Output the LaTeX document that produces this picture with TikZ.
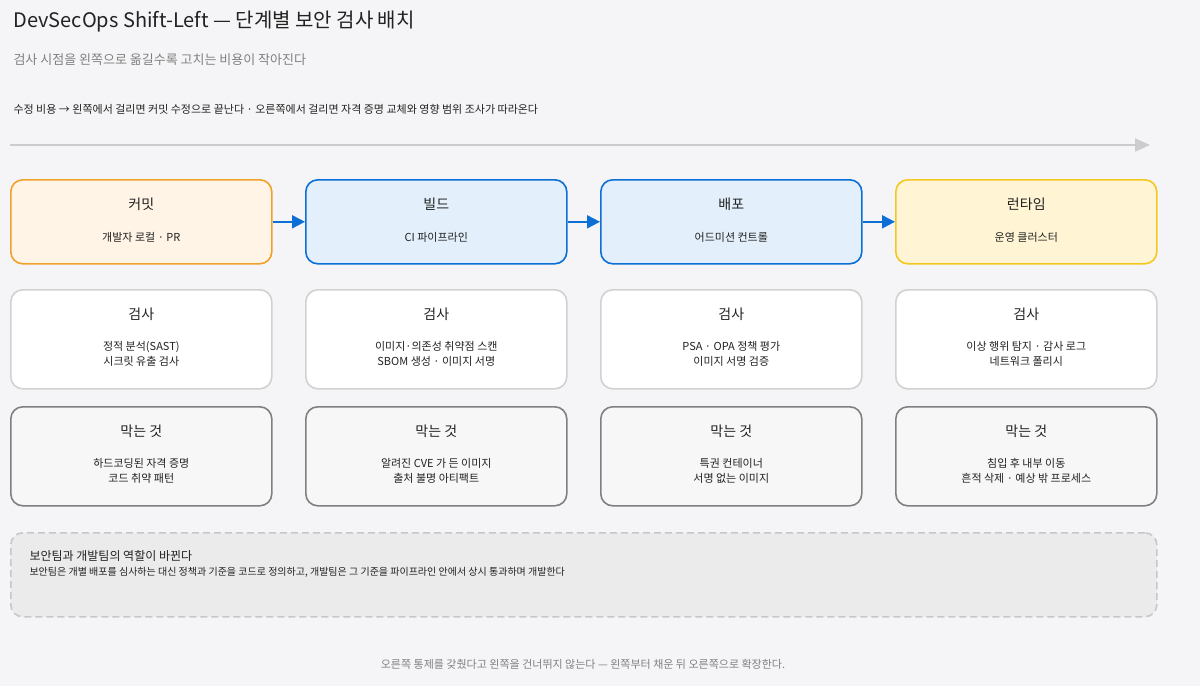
\documentclass[tikz,border=0pt]{standalone}
\usepackage{fontspec}
\setmainfont{Noto Sans CJK KR}
\usetikzlibrary{positioning,arrows.meta}
\definecolor{bgc}{HTML}{F5F5F7}
\definecolor{orng}{HTML}{F0A12C}
\definecolor{orngf}{HTML}{FFF4E6}
\definecolor{blu}{HTML}{0B6FD6}
\definecolor{bluf}{HTML}{E3EFFA}
\definecolor{ylw}{HTML}{F4C81E}
\definecolor{ylwf}{HTML}{FFF5D4}
\definecolor{txt}{HTML}{222222}
\definecolor{gry}{HTML}{808080}
\tikzset{
  stage/.style={draw, line width=1.6pt, rounded corners=12pt, minimum width=261pt, minimum height=84pt, anchor=north west},
  check/.style={stage, draw=black!18, fill=white, minimum height=99pt},
  block/.style={stage, draw=black!50, fill=black!3, minimum height=99pt},
  head/.style={font=\fontsize{14}{16}\selectfont, text=txt},
  sub/.style={font=\fontsize{11}{15}\selectfont, text=txt, align=center},
  flow/.style={-{Triangle[length=13pt,width=13pt]}, draw=blu, line width=2pt}
}
\begin{document}
\begin{tikzpicture}[x=1pt,y=-1pt]
\fill[bgc] (0,0) rectangle (1200,686);
\useasboundingbox (0,0) rectangle (1200,686);
\node[anchor=west, font=\fontsize{20}{24}\selectfont, text=txt] (title) at (10,22) {DevSecOps Shift-Left — 단계별 보안 검사 배치};
\node[anchor=west, font=\fontsize{13}{16}\selectfont, text=gry] (subtitle) at (10,60) {검사 시점을 왼쪽으로 옮길수록 고치는 비용이 작아진다};
\node[anchor=west, font=\fontsize{11}{14}\selectfont, text=txt] (note) at (10,109) {수정 비용 → 왼쪽에서 걸리면 커밋 수정으로 끝난다 · 오른쪽에서 걸리면 자격 증명 교체와 영향 범위 조사가 따라온다};
\coordinate (costL) at (10,145);
\coordinate (costR) at (1150,145);
\draw[black!20, line width=2pt, -{Triangle[length=15pt,width=13pt]}] (costL) -- (costR);
% stages
\node[stage, draw=orng, fill=orngf] (commit) at (10,179) {};
\node[stage, draw=blu, fill=bluf] (build) at (305,179) {};
\node[stage, draw=blu, fill=bluf] (deploy) at (600,179) {};
\node[stage, draw=ylw, fill=ylwf] (runtime) at (895,179) {};
\draw[flow] (commit) -- (build);
\draw[flow] (build) -- (deploy);
\draw[flow] (deploy) -- (runtime);
\foreach \s/\h/\t in {commit/커밋/개발자 로컬 · PR, build/빌드/CI 파이프라인, deploy/배포/어드미션 컨트롤, runtime/런타임/운영 클러스터}{
  \node[head] at ([yshift=-25pt]\s.north) {\h};
  \node[sub] at ([yshift=-58pt]\s.north) {\t};
}
% checks
\foreach \n/\x/\t in {1/10/{정적 분석(SAST)\\시크릿 유출 검사}, 2/305/{이미지·의존성 취약점 스캔\\SBOM 생성 · 이미지 서명}, 3/600/{PSA · OPA 정책 평가\\이미지 서명 검증}, 4/895/{이상 행위 탐지 · 감사 로그\\네트워크 폴리시}}{
  \node[check] (check\n) at (\x,289) {};
  \node[head] at ([yshift=-25pt]check\n.north) {검사};
  \node[sub] at ([yshift=-65pt]check\n.north) {\t};
}
% blocks
\foreach \n/\x/\t in {1/10/{하드코딩된 자격 증명\\코드 취약 패턴}, 2/305/{알려진 CVE 가 든 이미지\\출처 불명 아티팩트}, 3/600/{특권 컨테이너\\서명 없는 이미지}, 4/895/{침입 후 내부 이동\\흔적 삭제 · 예상 밖 프로세스}}{
  \node[block] (block\n) at (\x,406) {};
  \node[head] at ([yshift=-25pt]block\n.north) {막는 것};
  \node[sub] at ([yshift=-65pt]block\n.north) {\t};
}
% role note
\node[draw=black!22, fill=black!8, dashed, dash pattern=on 7pt off 4pt, line width=1.6pt, rounded corners=12pt, minimum width=1146pt, minimum height=84pt, anchor=north west] (roles) at (10,532) {};
\node[anchor=west, font=\fontsize{12}{14}\selectfont, text=txt] (rolehead) at (26,556) {보안팀과 개발팀의 역할이 바뀐다};
\node[anchor=west, font=\fontsize{10}{13}\selectfont, text=txt] (roletext) at (26,572) {보안팀은 개별 배포를 심사하는 대신 정책과 기준을 코드로 정의하고, 개발팀은 그 기준을 파이프라인 안에서 상시 통과하며 개발한다};
\node[font=\fontsize{11}{14}\selectfont, text=gry] (footer) at (583,664) {오른쪽 통제를 갖췄다고 왼쪽을 건너뛰지 않는다 — 왼쪽부터 채운 뒤 오른쪽으로 확장한다.};
\end{tikzpicture}
\end{document}
